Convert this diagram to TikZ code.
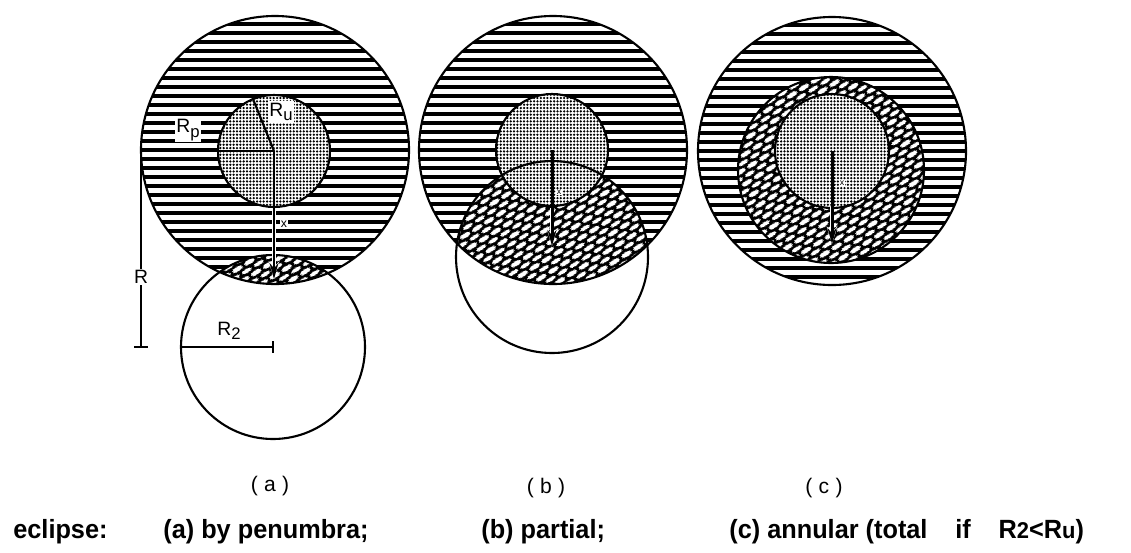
\documentclass[tikz,border=0pt]{standalone}
\usepackage{fontspec}
\setmainfont{Liberation Sans}
\usetikzlibrary{patterns.meta, arrows.meta, calc}

\tikzdeclarepattern{
  name = scales,
  type = uncolored,
  bounding box = {(0pt,0pt) and (8pt,7.4pt)},
  tile size = {(8pt,7.4pt)},
  tile transformation = {rotate = 32},
  code = {
    \foreach \sx/\sy in {0/0, 8/0, 4/3.7, 0/7.4, 8/7.4}
      \fill [shift = {(\sx pt,\sy pt)}] (0,0) ellipse [x radius = 3.3pt, y radius = 1.25pt];
  }
}

\newcommand{\low}[1]{\raisebox{-0.45ex}{\fontsize{9.5}{10}\selectfont #1}}
\newcommand{\capsub}[1]{{\fontsize{13}{13}\selectfont #1}}

\begin{document}
\begin{tikzpicture}[ x = 0.02cm, y = -0.02cm
                   , rim/.style = {line width = 1.2pt}
                   , stripe/.style = {line width = 2.1pt}
                   , dotfill/.style = {pattern = {Dots[distance = 1.9pt, radius = 0.72pt]}}
                   , scalefill/.style = {pattern = scales, pattern color = white}
                   , halo/.style = {white, line width = 2.6pt, -{Stealth[length = 10pt, width = 6pt]}}
                   , pointer/.style = {line width = 1.7pt, -{Stealth[length = 9pt, width = 5pt]}}
                   , tag/.style = {font = \fontsize{11}{13}\selectfont, inner sep = 1pt}
                   , xtag/.style = {font = \fontsize{7}{8}\selectfont, fill = white, inner sep = 0.6pt}
                   , caption/.style = { font = \fontsize{15}{18}\selectfont\bfseries
                                      , xscale = 0.96, transform shape
                                      , anchor = base west, inner sep = 0pt}
                   ]

  \useasboundingbox (0,0) rectangle (1131,552);

  % (a) by penumbra
  \coordinate (pa) at (275,150);
  \coordinate (ua) at (274,151);
  \coordinate (ma) at (273,347);
  \coordinate (xa) at (274,279);

  \begin{scope}
    \clip (pa) circle [radius = 134];
    \foreach \k in {0,...,30}
      \draw [stripe] (139,{15+9*\k}) -- (411,{15+9*\k});
    \fill [black] (ma) circle [radius = 92];
    \fill [scalefill] (ma) circle [radius = 92];
  \end{scope}
  \fill [white] (ua) circle [radius = 56];
  \fill [dotfill] (ua) circle [radius = 56];
  \draw [rim] (pa) circle [radius = 134];
  \draw [rim] (ua) circle [radius = 56];
  \draw [rim] (ma) circle [radius = 92];

  \draw [rim] (ua) -- ($(ua)+(180:56)$);
  \draw [rim] (ua) -- ($(ua)+(248:57)$);
  \draw [halo] ($(ua)+(0,60)$) -- (xa);
  \draw [pointer] (ua) -- (xa);
  \draw [rim] ($(ma)+(180:92)$) -- (ma);
  \draw [rim] ($(ma)+(0,-6)$) -- ($(ma)+(0,6)$);

  \coordinate (rtop) at (141,150);
  \coordinate (rbot) at (141,347);
  \draw [rim] (rtop) -- node [tag, fill = white, pos = 0.645] (rlab) {R} (rbot);
  \draw [rim] ($(rbot)+(-7,0)$) -- ($(rbot)+(7,0)$);

  \node (rp) at (188,130) [tag, fill = white] {R\low{p}};
  \node (ru) at (281,112) [tag, fill = white] {R\low{u}};
  \node (xla) at (284,224) [xtag] {x};
  \node (r2) at (229,331) [tag] {R\low{2}};

  % (b) partial
  \coordinate (pb) at (553,150);
  \coordinate (ub) at (552,150);
  \coordinate (mb) at (552,257);
  \coordinate (xb) at (552,246);

  \begin{scope}
    \clip (pb) circle [radius = 134];
    \foreach \k in {0,...,30}
      \draw [stripe] (417,{15+9*\k}) -- (689,{15+9*\k});
    \fill [black] (mb) circle [radius = 96];
    \fill [scalefill] (mb) circle [radius = 96];
  \end{scope}
  \fill [white] (ub) circle [radius = 56];
  \fill [dotfill] (ub) circle [radius = 56];
  \draw [rim] (pb) circle [radius = 134];
  \draw [rim] (ub) circle [radius = 56];
  \draw [rim] (mb) circle [radius = 96];

  \draw [halo] ($(ub)+(0,58)$) -- (xb);
  \draw [pointer] (ub) -- (xb);
  \node (xlb) at (559,192) [xtag, font = \fontsize{5}{6}\selectfont] {x};

  % (c) annular
  \coordinate (pc) at (832,151);
  \coordinate (uc) at (832,151);
  \coordinate (mc) at (831,170);
  \coordinate (xc) at (832,244);

  \begin{scope}
    \clip (pc) circle [radius = 134];
    \foreach \k in {0,...,30}
      \draw [stripe] (696,{16+9*\k}) -- (968,{16+9*\k});
  \end{scope}
  \fill [black] (mc) circle [radius = 93];
  \fill [scalefill] (mc) circle [radius = 93];
  \fill [white] (uc) circle [radius = 57];
  \fill [dotfill] (uc) circle [radius = 57];
  \draw [rim] (pc) circle [radius = 134];
  \draw [rim] (mc) circle [radius = 93];
  \draw [rim] (uc) circle [radius = 57];

  \draw [halo] ($(uc)+(0,56)$) -- (xc);
  \draw [pointer] (uc) -- (xc);
  \node (xlc) at (842,183) [xtag, font = \fontsize{5}{6}\selectfont] {x};

  % panel tags and caption
  \node (taga) at (270,486) [tag, font = \fontsize{12}{14}\selectfont] {(\hspace{0.3em}a\hspace{0.3em})};
  \node (tagb) at (546,488) [tag, font = \fontsize{12}{14}\selectfont] {(\hspace{0.3em}b\hspace{0.3em})};
  \node (tagc) at (824,488) [tag, font = \fontsize{12}{14}\selectfont] {(\hspace{0.3em}c\hspace{0.3em})};

  \node (capa) at (13,538) [caption] {eclipse:};
  \node (capb) at (163,538) [caption] {(a) by penumbra;};
  \node (capc) at (481,538) [caption] {(b) partial;};
  \node (capd) at (729,538) [caption]
    {(c) annular (total\hspace{1.1em}if\hspace{1.1em}R\capsub{2}<R\capsub{u})};

\end{tikzpicture}
\end{document}
